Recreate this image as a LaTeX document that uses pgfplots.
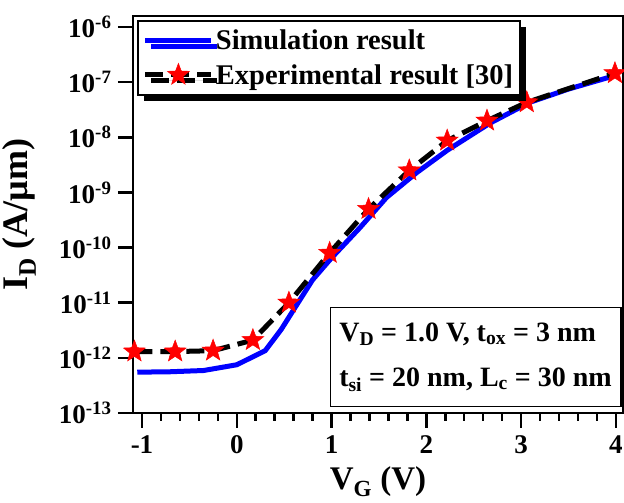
\documentclass[border=0pt]{standalone}
\usepackage{fontspec}
\setmainfont{Liberation Serif}
\usepackage{pgfplots}
\pgfplotsset{compat=1.18}
\usetikzlibrary{shadows}

% filled five-pointed star
\pgfdeclareplotmark{fstar}{%
  \pgfpathmoveto{\pgfpointpolar{90}{\pgfplotmarksize}}%
  \pgfpathlineto{\pgfpointpolar{126}{0.42\pgfplotmarksize}}%
  \pgfpathlineto{\pgfpointpolar{162}{\pgfplotmarksize}}%
  \pgfpathlineto{\pgfpointpolar{198}{0.42\pgfplotmarksize}}%
  \pgfpathlineto{\pgfpointpolar{234}{\pgfplotmarksize}}%
  \pgfpathlineto{\pgfpointpolar{270}{0.42\pgfplotmarksize}}%
  \pgfpathlineto{\pgfpointpolar{306}{\pgfplotmarksize}}%
  \pgfpathlineto{\pgfpointpolar{342}{0.42\pgfplotmarksize}}%
  \pgfpathlineto{\pgfpointpolar{18}{\pgfplotmarksize}}%
  \pgfpathlineto{\pgfpointpolar{54}{0.42\pgfplotmarksize}}%
  \pgfpathclose
  \pgfusepathqfillstroke}

% Simulated transfer characteristic
\pgfplotstableread{
vg      id
-1.05   5.5e-13
-0.70   5.6e-13
-0.35   5.9e-13
0.00    7.5e-13
0.30    1.35e-12
0.47    3.3e-12
0.63    9.0e-12
0.80    2.6e-11
1.00    6.5e-11
1.30    2.3e-10
1.58    8.1e-10
1.90    2.3e-9
2.22    5.8e-9
2.67    1.8e-8
3.09    4.3e-8
3.50    7.5e-8
3.98    1.3e-7
}\simdata

% Measured transfer characteristic
\pgfplotstableread{
vg      id
-1.08   1.30e-12
-0.65   1.30e-12
-0.25   1.35e-12
0.17    2.10e-12
0.55    1.00e-11
0.98    8.0e-11
1.39    5.0e-10
1.82    2.5e-9
2.22    8.7e-9
2.64    2.0e-8
3.06    4.3e-8
3.99    1.45e-7
}\expdata

\begin{document}
\begin{tikzpicture}
% page frame around the axis (axis lower-left corner sits at the origin)
\useasboundingbox (-133pt,-90pt) rectangle (491pt,413pt);
\begin{axis}[
  at={(0,0)}, anchor=south west,
  scale only axis,
  width=490pt, height=397pt,
  xmin=-1.095, xmax=4.075,
  ymode=log, log basis y=10,
  ymin=1e-13, ymax=1.585e-6,
  xtick={-1,0,1,2,3,4},
  xticklabels={-1,0,1,2,3,4},
  minor x tick num=4,
  ytick={1e-13,1e-12,1e-11,1e-10,1e-9,1e-8,1e-7,1e-6},
  yticklabel={\pgfmathtruncatemacro\ex{round(\tick)}\textbf{10\textsuperscript{\ex}}},
  xtick pos=bottom, ytick pos=left,
  tick align=outside,
  major tick length=15pt, minor tick length=8pt,
  every tick/.style={black, line width=2.5pt},
  axis line style={line width=2.5pt},
  ticklabel style={font=\fontsize{27}{30}\selectfont\bfseries},
  xticklabel style={yshift=-4pt},
  yticklabel style={xshift=-3pt},
  xlabel={V\textsubscript{G} (V)},
  ylabel={I\textsubscript{D} (A/µm)},
  xlabel style={font=\fontsize{33}{36}\selectfont\bfseries, yshift=-6pt},
  ylabel style={font=\fontsize{36}{40}\selectfont\bfseries, yshift=16pt},
  legend cell align=left,
  legend style={at={(rel axis cs:0.008,0.99)}, anchor=north west,
    draw=black, line width=2pt, fill=white,
    font=\fontsize{28.5}{31}\selectfont\bfseries,
    row sep=9pt, inner xsep=5pt, inner ysep=7pt,
    drop shadow={shadow xshift=6pt, shadow yshift=-6pt, fill=black, opacity=1}},
  legend image code/.code={\draw[mark repeat=2,mark phase=2,#1] plot coordinates {(0pt,0pt) (33pt,0pt) (66pt,0pt)};},
]
\addplot[blue, line width=5pt, line join=round] table[x=vg,y=id] {\simdata};
\addlegendentry{Simulation result}
\addplot[black, line width=5pt, dash pattern=on 18pt off 8pt,
  mark=fstar, mark size=11.5pt,
  mark options={solid, fill=red, draw=red, line width=0.5pt}] table[x=vg,y=id] {\expdata};
\addlegendentry{Experimental result [30]}
\node[draw=black, line width=1.5pt, fill=white, anchor=south east, align=left,
  font=\fontsize{28}{45}\selectfont\bfseries, inner xsep=9pt, inner ysep=15pt]
  at (rel axis cs:0.997,0.015)
  {V\textsubscript{D} = 1.0 V, t\textsubscript{ox} = 3 nm\\
   t\textsubscript{si} = 20 nm, L\textsubscript{c} = 30 nm};
\end{axis}
\end{tikzpicture}
\end{document}
